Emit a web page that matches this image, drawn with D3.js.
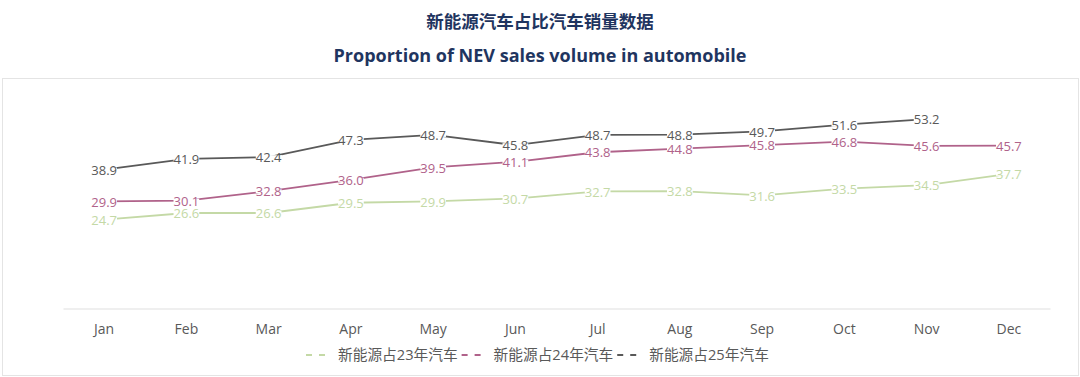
<!DOCTYPE html>
<html>
<head>
<meta charset="utf-8">
<script src="https://cdn.jsdelivr.net/npm/d3@7"></script>
<style>
  body { margin: 0; background: #fff; }
  svg text { font-family: 'Open Sans', 'Noto Sans CJK SC', sans-serif; }
</style>
</head>
<body>
<div id="chart"></div>
<script>
const months = ['Jan', 'Feb', 'Mar', 'Apr', 'May', 'Jun', 'Jul', 'Aug', 'Sep', 'Oct', 'Nov', 'Dec']
const sales23 = [24.7, 26.6, 26.6, 29.5, 29.9, 30.7, 32.7, 32.8, 31.6, 33.5, 34.5, 37.7]
const sales24 = [29.9, 30.1, 32.8, 36.0, 39.5, 41.1, 43.8, 44.8, 45.8, 46.8, 45.6, 45.7]
const sales25 = [38.9, 41.9, 42.4, 47.3, 48.7, 45.8, 48.7, 48.8, 49.7, 51.6, 53.2]
const seriesNames = ['新能源占23年汽车', '新能源占24年汽车', '新能源占25年汽车']
const seriesColors = ['#c4d9a6', '#b0628a', '#595959']
const titleCn = '新能源汽车占比汽车销量数据'
const titleEn = 'Proportion of NEV sales volume in automobile'

const width = 1080
const height = 377

const svg = d3.select('#chart').append('svg')
  .attr('width', width)
  .attr('height', height)

// frame round the plot
svg.append('rect')
  .attr('x', 2.5).attr('y', 78.5)
  .attr('width', 1076).attr('height', 297)
  .attr('fill', 'none')
  .attr('stroke', '#e4e4e4')

// titles
svg.append('text')
  .attr('x', width / 2).attr('y', 28)
  .attr('text-anchor', 'middle')
  .attr('font-size', 17.5)
  .attr('font-weight', 'bold')
  .attr('fill', '#1f3560')
  .text(titleCn)
svg.append('text')
  .attr('x', width / 2).attr('y', 62)
  .attr('text-anchor', 'middle')
  .attr('font-size', 18)
  .attr('font-weight', 'bold')
  .attr('fill', '#1f3560')
  .text(titleEn)

const x = d3.scaleBand().domain(months).range([63, 1050])
const y = d3.scaleLinear().domain([0, 60]).range([307, 95])
const cx = (m) => x(m) + x.bandwidth() / 2

// x axis
const xAxis = svg.append('g')
  .attr('transform', 'translate(0,308.5)')
  .call(d3.axisBottom(x).tickSize(0).tickPadding(16))
xAxis.select('.domain').attr('stroke', '#e0e0e0').attr('stroke-width', 1.2)
xAxis.selectAll('text')
  .attr('font-size', 14)
  .attr('fill', '#595959')
  .style('font-family', "'Open Sans', sans-serif")

const allSeries = [sales23, sales24, sales25]
const line = d3.line()
  .x((d, i) => cx(months[i]))
  .y((d) => y(d))

allSeries.forEach((values, s) => {
  svg.append('path')
    .attr('d', line(values))
    .attr('fill', 'none')
    .attr('stroke', seriesColors[s])
    .attr('stroke-width', 1.8)
})

// data labels with white boxes over the lines
allSeries.forEach((values, s) => {
  const g = svg.append('g')
  values.forEach((v, i) => {
    const lbl = g.append('g')
      .attr('transform', `translate(${cx(months[i])},${y(v)})`)
    const t = lbl.append('text')
      .attr('text-anchor', 'middle')
      .attr('dy', '0.4em')
      .attr('font-size', 13)
      .attr('fill', seriesColors[s])
      .text(v.toFixed(1))
    const bb = t.node().getBBox()
    lbl.insert('rect', 'text')
      .attr('x', bb.x)
      .attr('y', -2)
      .attr('width', bb.width)
      .attr('height', 4)
      .attr('fill', '#fff')
  })
})

// legend
const legend = svg.append('g').attr('transform', 'translate(306,355)')
let lx = 0
seriesNames.forEach((name, s) => {
  const item = legend.append('g').attr('transform', `translate(${lx},0)`)
  item.append('line')
    .attr('x1', 0).attr('x2', 19)
    .attr('y1', 0).attr('y2', 0)
    .attr('stroke', seriesColors[s])
    .attr('stroke-width', 1.8)
    .attr('stroke-dasharray', '6,7')
  const t = item.append('text')
    .attr('x', 32)
    .attr('dy', '0.35em')
    .attr('font-size', 14.7)
    .attr('fill', '#595959')
    .text(name)
  lx += 32 + t.node().getComputedTextLength() + 4
})
</script>
</body>
</html>
